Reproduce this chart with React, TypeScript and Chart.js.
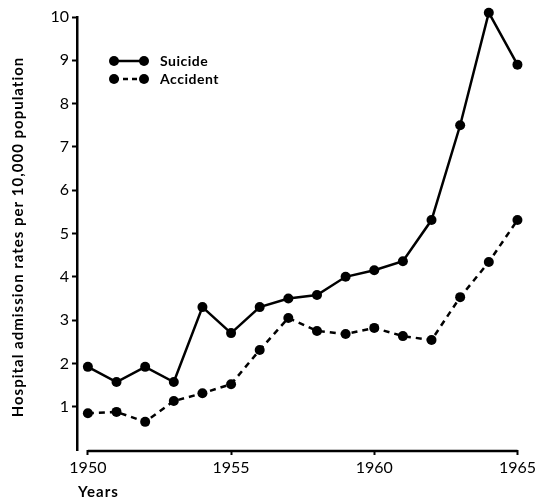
import React, { useEffect, useRef } from "react";
import { Chart, registerables } from "chart.js";

Chart.register(...registerables);

const years = [1950, 1951, 1952, 1953, 1954, 1955, 1956, 1957, 1958, 1959, 1960, 1961, 1962, 1963, 1964, 1965];
const suicide = [1.92, 1.57, 1.92, 1.57, 3.3, 2.7, 3.3, 3.5, 3.58, 4.0, 4.15, 4.36, 5.31, 7.5, 10.1, 8.9];
const accident = [0.85, 0.88, 0.65, 1.13, 1.31, 1.52, 2.31, 3.05, 2.75, 2.68, 2.82, 2.63, 2.54, 3.53, 4.34, 5.31];
const xTicks = [1950, 1955, 1960, 1965];
const yTicks = [1, 2, 3, 4, 5, 6, 7, 8, 9, 10];
const seriesNames = ["Suicide", "Accident"];
const yTitle = "Hospital admission rates per 10,000 population";
const xTitle = "Years";

const FONT = "Lato, 'DejaVu Sans', sans-serif";

const decorPlugin = {
  id: "decor",
  afterDraw(chart: any) {
    const ctx = chart.ctx;
    const xs = chart.scales.x;
    const ys = chart.scales.y;
    ctx.save();
    // x axis line from first to last tick
    ctx.strokeStyle = "#000";
    ctx.lineWidth = 2.5;
    ctx.beginPath();
    ctx.moveTo(xs.getPixelForValue(xTicks[0]), ys.bottom + 1);
    ctx.lineTo(xs.getPixelForValue(xTicks[xTicks.length - 1]), ys.bottom + 1);
    ctx.stroke();
    // titles
    ctx.fillStyle = "#000";
    ctx.font = `bold 15px ${FONT}`;
    (ctx as any).letterSpacing = "1px";
    ctx.textAlign = "center";
    ctx.textBaseline = "middle";
    ctx.save();
    ctx.translate(18, 237);
    ctx.rotate(-Math.PI / 2);
    ctx.fillText(yTitle, 0, 0);
    ctx.restore();
    ctx.textAlign = "left";
    ctx.fillText(xTitle, 78, 492);
    // legend
    const items = [
      { name: seriesNames[0], dash: [] as number[], y: 61 },
      { name: seriesNames[1], dash: [5, 4], y: 79 },
    ];
    for (const it of items) {
      ctx.setLineDash(it.dash);
      ctx.lineWidth = 2.5;
      ctx.beginPath();
      ctx.moveTo(114, it.y);
      ctx.lineTo(144, it.y);
      ctx.stroke();
      ctx.setLineDash([]);
      for (const px of [114, 144]) {
        ctx.beginPath();
        ctx.arc(px, it.y, 5, 0, Math.PI * 2);
        ctx.fill();
      }
      ctx.font = `bold 14px ${FONT}`;
      (ctx as any).letterSpacing = "0.5px";
      ctx.textAlign = "left";
      ctx.textBaseline = "middle";
      ctx.fillText(it.name, 160, it.y);
    }
    ctx.restore();
  },
};

export default function App() {
  const ref = useRef<HTMLCanvasElement>(null);
  useEffect(() => {
    const chart = new Chart(ref.current!, {
      type: "line",
      data: {
        datasets: [
          {
            label: seriesNames[0],
            data: years.map((y, i) => ({ x: y, y: suicide[i] })),
            borderColor: "#000",
            backgroundColor: "#000",
            borderWidth: 2.5,
            pointRadius: 5,
            pointBackgroundColor: "#000",
            pointBorderWidth: 0,
            clip: false as any,
          },
          {
            label: seriesNames[1],
            data: years.map((y, i) => ({ x: y, y: accident[i] })),
            borderColor: "#000",
            backgroundColor: "#000",
            borderWidth: 2.5,
            borderDash: [6, 5],
            pointRadius: 5,
            pointBackgroundColor: "#000",
            pointBorderWidth: 0,
            clip: false as any,
          },
        ],
      },
      options: {
        responsive: false,
        animation: false,
        layout: { padding: { left: 0, top: 17, right: 18, bottom: 0 } },
        plugins: { legend: { display: false }, tooltip: { enabled: false } },
        scales: {
          x: {
            type: "linear",
            min: 1949.62,
            max: 1965,
            afterBuildTicks: (s: any) => {
              s.ticks = xTicks.map((v) => ({ value: v }));
            },
            afterFit: (s: any) => {
              s.height = 51;
            },
            border: { display: false },
            grid: { drawOnChartArea: false, tickLength: 5, color: "#000", tickWidth: 2 },
            ticks: {
              color: "#000",
              font: { family: FONT, size: 16 },
              padding: 3,
              maxRotation: 0,
              callback: (v: any) => String(v),
            },
          },
          y: {
            type: "linear",
            min: 0,
            max: 10,
            afterBuildTicks: (s: any) => {
              s.ticks = yTicks.map((v) => ({ value: v }));
            },
            afterFit: (s: any) => {
              s.width = 77;
            },
            border: { display: true, color: "#000", width: 2.5 },
            grid: { drawOnChartArea: false, tickLength: 5, color: "#000", tickWidth: 2 },
            ticks: {
              color: "#000",
              font: { family: FONT, size: 16 },
              padding: 3,
            },
          },
        },
      },
      plugins: [decorPlugin],
    });
    return () => chart.destroy();
  }, []);
  return (
    <div style={{ position: "fixed", left: 0, top: 0, width: 539, height: 501, background: "#fff" }}>
      <canvas ref={ref} width={539} height={501} style={{ width: 539, height: 501 }} />
    </div>
  );
}
